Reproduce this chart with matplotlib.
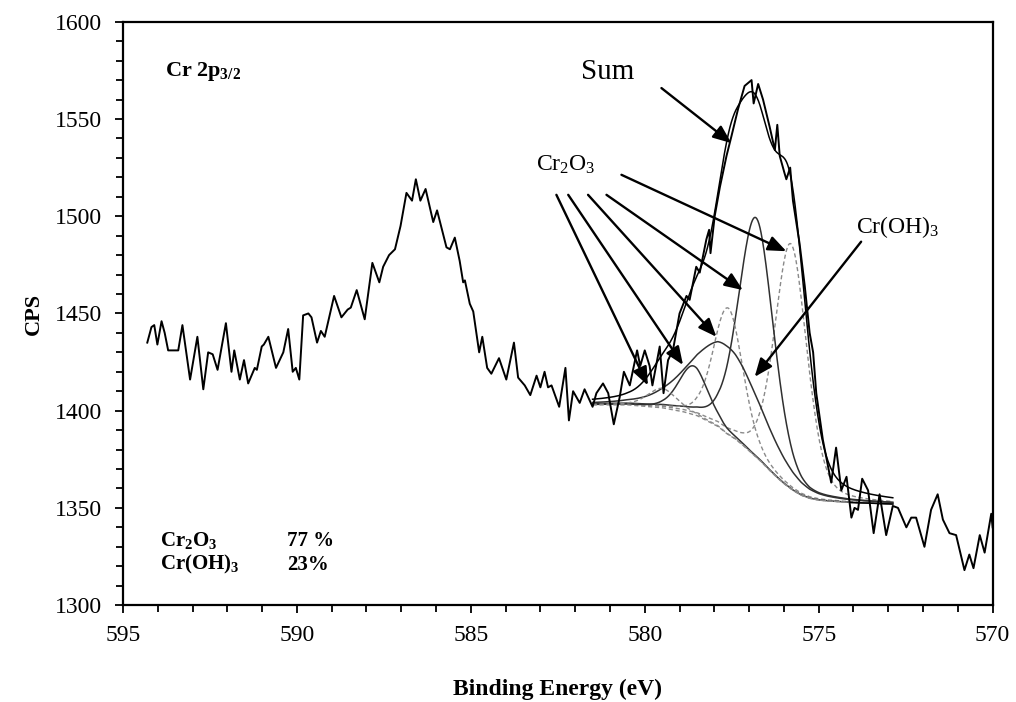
import numpy as np
import matplotlib
matplotlib.use("Agg")
import matplotlib.pyplot as plt

plt.rcParams['font.family'] = ['Liberation Serif', 'DejaVu Serif']
plt.rcParams['mathtext.fontset'] = 'custom'
plt.rcParams['mathtext.rm'] = 'Liberation Serif'
plt.rcParams['mathtext.it'] = 'Liberation Serif:italic'
plt.rcParams['mathtext.bf'] = 'Liberation Serif:bold'

# ---------------- data ----------------
energy = [594.30, 594.18, 594.10, 594.01, 593.89, 593.80, 593.70, 593.41, 593.29, 593.07,
          592.86, 592.69, 592.55, 592.42, 592.28, 592.04, 591.88, 591.80, 591.64, 591.52,
          591.40, 591.21, 591.15, 591.01, 590.95, 590.82, 590.60, 590.39, 590.25, 590.12,
          590.03, 589.93, 589.82, 589.67, 589.58, 589.42, 589.31, 589.20, 588.93, 588.72,
          588.54, 588.45, 588.28, 588.05, 587.83, 587.63, 587.52, 587.35, 587.18, 587.02,
          586.85, 586.69, 586.58, 586.45, 586.30, 586.08, 585.97, 585.70, 585.60, 585.46,
          585.32, 585.22, 585.17, 585.03, 584.93, 584.76, 584.67, 584.53, 584.41, 584.19,
          583.98, 583.76, 583.64, 583.45, 583.29, 583.11, 583.00, 582.88, 582.78, 582.68,
          582.46, 582.28, 582.18, 582.06, 581.87, 581.73, 581.50, 581.39, 581.20, 581.05,
          580.89, 580.72, 580.60, 580.43, 580.22, 580.13, 580.00, 579.86, 579.78, 579.57,
          579.46, 579.33, 579.19, 579.00, 578.80, 578.71, 578.52, 578.42, 578.23, 578.15,
          578.11, 577.99, 577.84, 577.65, 577.51, 577.32, 577.13, 576.93, 576.87, 576.74,
          576.60, 576.41, 576.26, 576.19, 576.12, 575.98, 575.93, 575.82, 575.74, 575.55,
          575.40, 575.26, 575.16, 575.07, 574.88, 574.64, 574.50, 574.35, 574.20, 574.06,
          573.97, 573.87, 573.75, 573.58, 573.42, 573.25, 573.06, 572.87, 572.72, 572.48,
          572.34, 572.20, 571.96, 571.77, 571.58, 571.43, 571.24, 571.05, 570.81, 570.67,
          570.55, 570.37, 570.23, 570.04, 570.00]
counts = [1435, 1443, 1444, 1434, 1446, 1440, 1431, 1431, 1444, 1416,
          1438, 1411, 1430, 1429, 1421, 1445, 1420, 1431, 1416, 1426,
          1414, 1422, 1421, 1433, 1434, 1438, 1422, 1430, 1442, 1420,
          1422, 1416, 1449, 1450, 1448, 1435, 1441, 1438, 1459, 1448,
          1452, 1453, 1462, 1447, 1476, 1466, 1474, 1480, 1483, 1495,
          1512, 1508, 1519, 1508, 1514, 1497, 1503, 1484, 1483, 1489,
          1477, 1466, 1467, 1455, 1451, 1430, 1438, 1422, 1419, 1427,
          1416, 1435, 1417, 1413, 1408, 1418, 1412, 1420, 1412, 1413,
          1402, 1422, 1395, 1410, 1404, 1411, 1402, 1409, 1414, 1409,
          1393, 1407, 1420, 1413, 1431, 1423, 1431, 1423, 1413, 1433,
          1409, 1426, 1431, 1450, 1459, 1457, 1474, 1471, 1488, 1493,
          1481, 1500, 1515, 1531, 1541, 1555, 1567, 1570, 1558, 1568,
          1560, 1546, 1534, 1547, 1531, 1522, 1519, 1525, 1508, 1486,
          1464, 1440, 1430, 1409, 1385, 1363, 1381, 1359, 1366, 1345,
          1350, 1349, 1365, 1359, 1337, 1357, 1336, 1351, 1350, 1340,
          1345, 1345, 1330, 1349, 1357, 1344, 1337, 1336, 1318, 1326,
          1319, 1336, 1327, 1347, 1340]

# Shirley-type background of the fit
bg_energy = [581.50, 580.50, 579.86, 579.50, 578.90, 578.50, 578.23, 577.90, 577.65, 577.40,
             577.18, 576.95, 576.70, 576.45, 576.22, 576.00, 575.74, 575.50, 575.26, 575.00,
             574.78, 574.11, 573.50, 572.87]
bg_counts = [1403, 1403, 1402, 1401.5, 1399.5, 1397.5, 1395, 1392, 1388.3, 1385.5,
             1382.3, 1378.5, 1374.6, 1370, 1366, 1362.5, 1359, 1356.5, 1354.9, 1354,
             1353.6, 1352.8, 1352.4, 1352]

# fitted components: centre (eV), height above background (CPS), FWHM (eV)
peak_names = ['Cr2O3 a', 'Cr2O3 b', 'Cr2O3 c', 'Cr(OH)3', 'Cr2O3 d', 'Cr2O3 e']
peak_centres = [575.80, 576.80, 577.60, 577.65, 578.60, 579.50]
peak_heights = [126, 123, 65, 45, 25, 10]
peak_fwhm = [1.10, 1.20, 1.00, 2.40, 1.00, 1.00]
peak_dashed = [True, False, True, False, False, True]

# ---------------- figure ----------------
fig = plt.figure(figsize=(10.16, 7.02), dpi=100)
ax = fig.add_axes([0.121, 0.138, 0.856, 0.831])

ax.plot(energy, counts, color='black', lw=1.4, zorder=5)

x_fit = np.linspace(bg_energy[0], bg_energy[-1], 600)
bg_fit = np.interp(x_fit, bg_energy[::-1], bg_counts[::-1])


def gl(x, c, h, w, m=0.3):
    d2 = 4.0 * (x - c) ** 2 / w ** 2
    return h * ((1 - m) * np.exp(-np.log(2) * d2) + m / (1 + d2))


total = bg_fit.copy()
for c, h, w, dsh in zip(peak_centres, peak_heights, peak_fwhm, peak_dashed):
    comp = gl(x_fit, c, h, w)
    total = total + comp
    if dsh:
        ax.plot(x_fit, bg_fit + comp, color='#8a8a8a', lw=1.0, ls=(0, (3, 2)), zorder=3)
    else:
        ax.plot(x_fit, bg_fit + comp, color='#303030', lw=1.1, zorder=3)

ax.plot(x_fit, bg_fit, color='#8a8a8a', lw=1.0, ls=(0, (3, 2)), zorder=3)
ax.plot(x_fit, total, color='black', lw=1.1, zorder=4)
# right-hand flat end of the fit window
ax.plot([574.11, 572.87], [1352.8, 1352], color='black', lw=1.1, zorder=4)

ax.set_xlim(595, 570)
ax.set_ylim(1300, 1600)
ax.set_xticks([595, 590, 585, 580, 575, 570])
ax.set_xticks(np.arange(570, 596, 1), minor=True)
ax.set_yticks([1300, 1350, 1400, 1450, 1500, 1550, 1600])
ax.set_yticks(np.arange(1300, 1601, 10), minor=True)
ax.tick_params(axis='both', which='both', direction='out', width=1.3, labelsize=17)
ax.tick_params(axis='both', which='major', length=6)
ax.tick_params(axis='both', which='minor', length=5)
ax.tick_params(axis='x', pad=8)
ax.tick_params(axis='y', pad=9)
for s in ax.spines.values():
    s.set_linewidth(1.6)

ax.set_xlabel('Binding Energy (eV)', fontsize=17, fontweight='bold', labelpad=24)
ax.set_ylabel('CPS', fontsize=16, fontweight='bold', labelpad=8)

ax.text(0.048, 0.914, r'$\mathbf{Cr\ 2p_{3/2}}$', transform=ax.transAxes,
        fontsize=16, ha='left', va='center')
ax.text(0.0425, 0.110, r'$\mathbf{Cr_2O_3}$', transform=ax.transAxes,
        fontsize=15, ha='left', va='center')
ax.text(0.1885, 0.110, '77 %', transform=ax.transAxes, fontsize=15,
        fontweight='bold', ha='left', va='center')
ax.text(0.0425, 0.069, r'$\mathbf{Cr(OH)_3}$', transform=ax.transAxes,
        fontsize=15, ha='left', va='center')
ax.text(0.1885, 0.069, '23%', transform=ax.transAxes, fontsize=15,
        fontweight='bold', ha='left', va='center')

arrow = dict(arrowstyle='-|>,head_length=1.1,head_width=0.45', color='black', lw=1.7,
             shrinkA=0, shrinkB=0)

ax.text(581.06, 1574, 'Sum', fontsize=21, ha='center', va='center')
ax.annotate('', xy=(577.51, 1537.6), xytext=(579.52, 1565.9), arrowprops=arrow)

ax.text(582.27, 1526.4, r'Cr$_2$O$_3$', fontsize=17, ha='center', va='center')
cr2o3_tips = [(579.91, 1413), (578.90, 1423.5), (577.94, 1438), (577.18, 1462), (575.93, 1482)]
cr2o3_tails = [(582.54, 1511), (582.20, 1511), (581.63, 1511), (581.10, 1511), (580.67, 1521.3)]
for tip, tail in zip(cr2o3_tips, cr2o3_tails):
    ax.annotate('', xy=tip, xytext=tail, arrowprops=arrow)

ax.text(572.73, 1494.5, r'Cr(OH)$_3$', fontsize=17, ha='center', va='center')
ax.annotate('', xy=(576.84, 1417.4), xytext=(573.78, 1486.9), arrowprops=arrow)

fig.savefig('out.png', dpi=100)
